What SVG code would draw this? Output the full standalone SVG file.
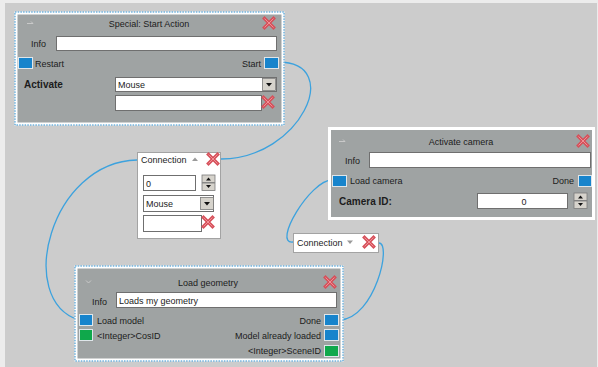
<svg xmlns="http://www.w3.org/2000/svg" width="598" height="367" viewBox="0 0 598 367">
  <style>
    text { font-family: "Liberation Sans", Arial, sans-serif; font-size: 9px; fill: #1c1c1c; }
    .bold { font-weight: bold; font-size: 10px; }
    .mid { text-anchor: middle; }
    .end { text-anchor: end; }
    .panel { fill: #9fa3a3; }
    .frame { fill: #ffffff; }
    .sel { fill: none; stroke: #2a8fd0; stroke-width: 1; stroke-dasharray: 1.5 1.2; }
    .field { fill: #ffffff; stroke: #6f6f6f; stroke-width: 1; }
    .btn { fill: #d6d3cc; stroke: #7a7a7a; stroke-width: 0.8; }
    .port-b { fill: #1784cc; stroke: #dfe6ea; stroke-width: 1; }
    .port-g { fill: #0fa84b; stroke: #dfe6ea; stroke-width: 1; }
    .conn-box { fill: #ffffff; stroke: #a3a3a3; stroke-width: 1; }
    .wire { fill: none; stroke: #3ca2de; stroke-width: 1.3; }
    .icon { fill: none; stroke: #c9c9c9; stroke-width: 1; }
  </style>
  <defs>
    <!-- red delete cross -->
    <g id="del">
      <path d="M-4.5,-4.5 L4.5,4.5 M4.5,-4.5 L-4.5,4.5" stroke="#d6505a" stroke-width="3.4" stroke-linecap="square" fill="none"/>
      <path d="M-4.5,-4.5 L4.5,4.5 M4.5,-4.5 L-4.5,4.5" stroke="#ef8f95" stroke-width="1" fill="none"/>
    </g>
    <!-- dropdown arrow button -->
    <g id="drop">
      <rect class="btn" x="0" y="0" width="13" height="12"/>
      <path d="M3.5,4.5 L9.5,4.5 L6.5,8 Z" fill="#111"/>
    </g>
    <!-- up/down spinner -->
    <g id="spin">
      <rect class="btn" x="0" y="0" width="13" height="7.5"/>
      <rect class="btn" x="0" y="8" width="13" height="7.5"/>
      <path d="M4,5.5 L9,5.5 L6.5,2.5 Z" fill="#111"/>
      <path d="M4,10 L9,10 L6.5,13 Z" fill="#111"/>
    </g>
  </defs>

  <!-- canvas -->
  <rect x="0" y="0" width="598" height="367" fill="#ececec"/>
  <rect x="5" y="3" width="592" height="364" fill="#cccccc"/>

  <!-- connectors -->
  <g id="connectors">
    <path class="wire" d="M278,62 C345,62 300,159 221,159"/>
    <path class="wire" d="M137,160 C50,162 15,300 79,320"/>
    <path class="wire" d="M332,180 C310,180 272,245 293,242"/>
    <path class="wire" d="M379,243 C392,243 375,318 340,320"/>
  </g>

  <!-- Special: Start Action -->
  <g id="node-start-action">
    <rect class="frame" x="14.5" y="11.5" width="270" height="114"/>
    <rect class="panel" x="17.5" y="14.5" width="264" height="108"/>
    <rect class="sel" x="15" y="12" width="269" height="113"/>
    <path class="icon" d="M27,23.5 L33,23.5 M31,21.5 L33,23.5"/>
    <text class="mid" x="149" y="26.5">Special: Start Action</text>
    <use href="#del" x="269" y="23"/>
    <text x="31" y="47">Info</text>
    <rect class="field" x="56.5" y="36.5" width="220" height="14"/>
    <rect class="port-b" x="18.5" y="57.5" width="14" height="11"/>
    <text x="35" y="67">Restart</text>
    <rect class="port-b" x="264.5" y="57.5" width="14" height="11"/>
    <text class="end" x="261" y="67">Start</text>
    <text class="bold" x="24" y="88">Activate</text>
    <rect class="field" x="115.5" y="77.5" width="161" height="14"/>
    <text x="118" y="88">Mouse</text>
    <use href="#drop" x="262.5" y="78.5"/>
    <rect class="field" x="115.5" y="95.5" width="146" height="15"/>
    <use href="#del" x="268" y="102"/>
  </g>

  <!-- Connection (expanded) -->
  <g id="node-connection-1">
    <rect class="conn-box" x="137.5" y="152.5" width="83" height="86"/>
    <text x="141" y="162.5">Connection</text>
    <path d="M192,161 L198,161 L195,157.5 Z" fill="#9a9a9a"/>
    <use href="#del" x="213" y="159"/>
    <rect class="field" x="143.5" y="175.5" width="52" height="15"/>
    <text x="146" y="187">0</text>
    <use href="#spin" x="202" y="175"/>
    <rect class="field" x="143.5" y="195.5" width="70" height="16"/>
    <text x="146" y="207">Mouse</text>
    <use href="#drop" x="200.5" y="197.5"/>
    <rect class="field" x="143.5" y="215.5" width="58" height="16"/>
    <use href="#del" x="208" y="222"/>
  </g>

  <!-- Activate camera -->
  <g id="node-activate-camera">
    <rect class="frame" x="328" y="127" width="267" height="93"/>
    <rect class="panel" x="331" y="130" width="261" height="87"/>
    <path class="icon" d="M339,141.5 L345,141.5 M343,139.5 L345,141.5"/>
    <text class="mid" x="461" y="145">Activate camera</text>
    <use href="#del" x="583" y="141"/>
    <text x="345" y="164">Info</text>
    <rect class="field" x="369.5" y="152.5" width="221" height="15"/>
    <rect class="port-b" x="332.5" y="175.5" width="14" height="11"/>
    <text x="350" y="184">Load camera</text>
    <rect class="port-b" x="578.5" y="175.5" width="13" height="11"/>
    <text class="end" x="574" y="184">Done</text>
    <text class="bold" x="339" y="205">Camera ID:</text>
    <rect class="field" x="477.5" y="193.5" width="90" height="15"/>
    <text class="mid" x="524" y="205">0</text>
    <use href="#spin" x="574" y="193"/>
  </g>

  <!-- Connection (collapsed) -->
  <g id="node-connection-2">
    <rect class="conn-box" x="293.5" y="233.5" width="85" height="19"/>
    <text x="297" y="245.5">Connection</text>
    <path d="M347,240.5 L353,240.5 L350,244 Z" fill="#9a9a9a"/>
    <use href="#del" x="369" y="242"/>
  </g>

  <!-- Load geometry -->
  <g id="node-load-geometry">
    <rect class="frame" x="74.5" y="265.5" width="269" height="96"/>
    <rect class="panel" x="77.5" y="268.5" width="263" height="90"/>
    <rect class="sel" x="75" y="266" width="268" height="95"/>
    <path class="icon" d="M86,280.5 L88.5,283 L91,280.5"/>
    <text class="mid" x="208" y="285.5">Load geometry</text>
    <use href="#del" x="330" y="282"/>
    <text x="92" y="304.5">Info</text>
    <rect class="field" x="116.5" y="292.5" width="220" height="15"/>
    <text x="119" y="304">Loads my geometry</text>
    <rect class="port-b" x="79.5" y="314.5" width="13" height="11"/>
    <text x="97" y="324">Load model</text>
    <rect class="port-g" x="79.5" y="329.5" width="13" height="11"/>
    <text x="97" y="338.5">&lt;Integer&gt;CosID</text>
    <rect class="port-b" x="324.5" y="314.5" width="14" height="11"/>
    <text class="end" x="321" y="324">Done</text>
    <rect class="port-b" x="324.5" y="329.5" width="14" height="11"/>
    <text class="end" x="321" y="338.5">Model already loaded</text>
    <rect class="port-g" x="324.5" y="345.5" width="14" height="11"/>
    <text class="end" x="321" y="354">&lt;Integer&gt;SceneID</text>
  </g>
</svg>
